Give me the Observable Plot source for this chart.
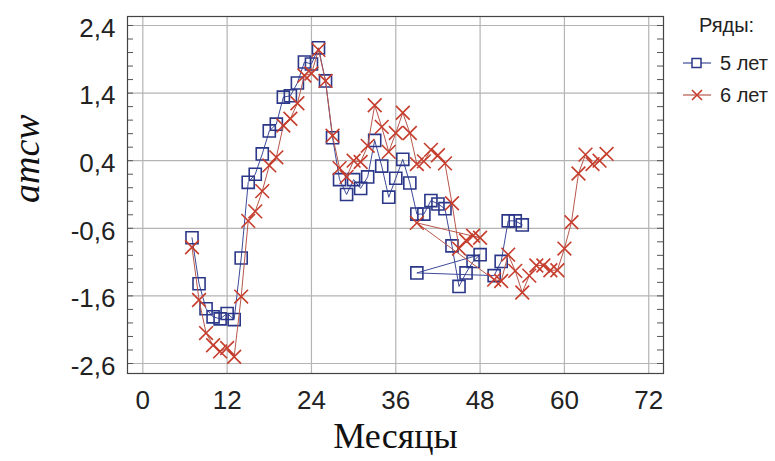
<!DOCTYPE html>
<html><head><meta charset="utf-8">
<script src="https://cdn.jsdelivr.net/npm/d3@7"></script>
<script src="https://cdn.jsdelivr.net/npm/@observablehq/plot@0.6"></script>
<style>
body{margin:0;background:#fff}
#wrap{position:relative;width:775px;height:461px;overflow:hidden}
#legend{position:absolute;left:0;top:0}
</style>
</head><body><div id="wrap"></div>
<script>
// Series "5 лет" (plotted in data order)
const months5 = [7,8,9,10,11,12,13,14,15,16,17,18,19,20,21,22,23,24,25,26,27,28,29,30,31,32,33,34,35,36,37,38,39,40,41,42,43,44,45,46,47,48,39,50,51,52,53,54];
const values5 = [-0.74,-1.42,-1.79,-1.91,-1.94,-1.86,-1.95,-1.04,0.08,0.20,0.50,0.84,0.94,1.34,1.36,1.55,1.86,1.83,2.07,1.58,0.74,0.12,-0.10,0.12,-0.01,0.16,0.70,0.32,-0.14,0.14,0.42,0.07,-0.39,-0.39,-0.19,-0.24,-0.31,-0.86,-1.46,-1.26,-1.09,-0.99,-1.26,-1.30,-1.09,-0.49,-0.49,-0.55];
// Series "6 лет"
const months6 = [7,8,9,10,11,12,13,14,15,16,17,18,19,20,21,22,23,24,25,26,27,28,29,30,31,32,33,34,35,36,37,38,39,40,41,42,43,44,45,46,47,48,39,50,51,52,53,54,55,56,57,58,59,60,61,62,63,64,65,66];
const values6 = [-0.88,-1.66,-2.15,-2.33,-2.42,-2.37,-2.50,-1.61,-0.49,-0.35,-0.05,0.33,0.45,0.92,1.02,1.25,1.66,1.69,2.04,1.58,0.77,0.29,0.16,0.40,0.38,0.62,1.22,0.90,0.53,0.81,1.11,0.81,0.35,0.39,0.56,0.48,0.36,-0.23,-0.90,-0.78,-0.71,-0.74,-0.52,-1.36,-1.38,-0.99,-1.23,-1.55,-1.30,-1.15,-1.15,-1.22,-1.22,-0.90,-0.51,0.21,0.49,0.35,0.40,0.50];

const seriesNames = ["5 лет", "6 лет"];
const legendTitle = "Ряды:";
const xTitle = "Месяцы";
const yTitle = "amcw";
const xTicks = [0,12,24,36,48,60,72];
const xTickLabels = ["0","12","24","36","48","60","72"];
const yTicks = [-2.6,-1.6,-0.6,0.4,1.4,2.4];
const yTickLabels = ["-2,6","-1,6","-0,6","0,4","1,4","2,4"];
const yMinorTicks = d3.range(-13, 13).map(i => i / 5);

const rows5 = months5.map((m, i) => ({x: m, y: values5[i]}));
const rows6 = months6.map((m, i) => ({x: m, y: values6[i]}));

const W = 775, H = 461, mL = 127, mR = 112, mT = 16, mB = 88;
const plotW = W - mL - mR;
const blue = "#2b3788", blueLine = "#3d4a98";
const red = "#c63d2d", redLine = "#b8574c";
const font = "'Liberation Sans', Arial, sans-serif";

const chart = Plot.plot({
  width: W, height: H,
  marginLeft: mL, marginRight: mR, marginTop: mT, marginBottom: mB,
  style: {fontFamily: font, fontSize: "26px", color: "#222", background: "#fff"},
  x: {domain: [-2.18, 74.1]},
  y: {domain: [-2.748, 2.533]},
  marks: [
    Plot.ruleX(xTicks, {stroke: "#b4b4b4", strokeWidth: 1.2}),
    Plot.ruleY(yTicks, {stroke: "#b4b4b4", strokeWidth: 1.2}),
    Plot.ruleY(yMinorTicks, {stroke: "#555", insetRight: plotW - 6}),
    Plot.ruleY(yMinorTicks, {stroke: "#555", insetLeft: plotW - 6}),
    Plot.frame({stroke: "#444", strokeWidth: 1.2}),
    Plot.axisX(xTicks, {tickSize: 0, tickPadding: 17, label: null, fill: "#222", fontSize: 26,
      tickFormat: d => xTickLabels[xTicks.indexOf(d)]}),
    Plot.axisY(yTicks, {tickSize: 0, tickPadding: 12, label: null, fill: "#222", dy: 3, fontSize: 26,
      tickFormat: d => yTickLabels[yTicks.indexOf(d)]}),
    Plot.line(rows5, {x: "x", y: "y", stroke: blueLine, strokeWidth: 1}),
    Plot.dot(rows5, {x: "x", y: "y", symbol: "square", r: 6.8, stroke: blue, strokeWidth: 1.6, fill: "none"}),
    Plot.line(rows6, {x: "x", y: "y", stroke: redLine, strokeWidth: 1}),
    Plot.dot(rows6, {x: "x", y: "y", symbol: "times", r: 6.3, stroke: red, strokeWidth: 1.6}),
    Plot.text([yTitle], {frameAnchor: "left", dx: -101, dy: 8, rotate: -90, text: d => d,
      fontFamily: "'Liberation Serif', 'Times New Roman', serif", fontStyle: "italic", fontSize: 38, fill: "#111"}),
    Plot.text([xTitle], {frameAnchor: "bottom", dy: 74, text: d => d,
      fontFamily: "'Liberation Serif', 'Times New Roman', serif", fontSize: 36, fill: "#111"})
  ]
});
document.getElementById("wrap").appendChild(chart);

// Legend (overlay)
const lg = d3.select("#wrap").append("svg").attr("id", "legend").attr("width", W).attr("height", H)
  .style("font-family", font).style("font-size", "20px");
lg.append("text").attr("x", 699).attr("y", 32).attr("fill", "#222").text(legendTitle);
const items = [
  {name: seriesNames[0], color: blue, lineColor: blueLine, y: 63, sym: "square"},
  {name: seriesNames[1], color: red, lineColor: redLine, y: 95, sym: "times"}
];
for (const it of items) {
  lg.append("line").attr("x1", 683).attr("x2", 711).attr("y1", it.y).attr("y2", it.y)
    .attr("stroke", it.lineColor).attr("stroke-width", 1.2);
  if (it.sym === "square") {
    lg.append("rect").attr("x", 692).attr("y", it.y - 4.5).attr("width", 9).attr("height", 9)
      .attr("fill", "#fff").attr("stroke", it.color).attr("stroke-width", 1.5);
  } else {
    lg.append("path").attr("d", `M${692},${it.y-5}L${702},${it.y+5}M${702},${it.y-5}L${692},${it.y+5}`)
      .attr("stroke", it.color).attr("stroke-width", 1.6);
  }
  lg.append("text").attr("x", 720).attr("y", it.y + 7).attr("fill", "#222").text(it.name);
}
</script>
</body></html>
